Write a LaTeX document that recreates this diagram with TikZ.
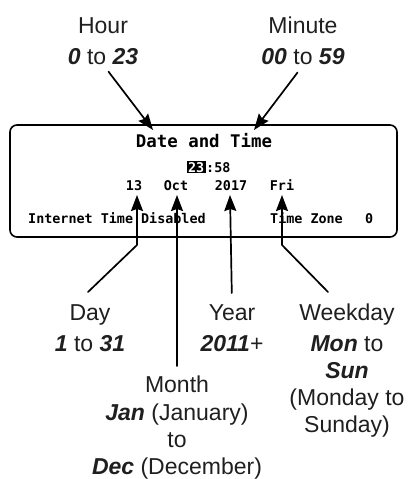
\documentclass[tikz,border=0pt]{standalone}
\usepackage{fontspec}
\setmainfont{Liberation Sans}
\newfontfamily\lcdfont{DejaVu Sans Mono}
\usetikzlibrary{arrows.meta}
\newcommand{\bi}[1]{\textbf{\textit{#1}}}
\tikzset{
  lbl/.style={align=center,inner sep=0pt,text=black!88,font=\fontsize{23}{27}\selectfont},
  lcd/.style={inner sep=0pt,anchor=base,font=\lcdfont\bfseries\fontsize{13.4}{14}\selectfont},
  lcdtitle/.style={lcd,font=\lcdfont\bfseries\fontsize{17.4}{18}\selectfont},
  screen/.style={draw,rounded corners=7pt,line width=1.6pt,minimum width=387pt,minimum height=112pt,inner sep=0pt},
  ptr/.style={->,line width=1.7pt},
}
\begin{document}
\begin{tikzpicture}[x=1pt,y=-1pt,>={Stealth[length=16pt,width=12pt,inset=2pt]},line join=round,line cap=round]
\useasboundingbox (0,0) rectangle (409,479);
\node[screen] (lcd) at (203.5,181) {};
\node[lcdtitle] (title) at (204,147) {Date and Time};
\node[lcd,anchor=base east,fill=black,text=white,inner xsep=1.5pt,inner ysep=1pt] (hh) at (206,172) {23};
\node[lcd,anchor=base west] (mm) at (206,172) {:58};
\node[lcd] (dd) at (134,190) {13};
\node[lcd] (mon) at (176,190) {Oct};
\node[lcd] (yy) at (231,190) {2017};
\node[lcd] (wd) at (282,190) {Fri};
\node[lcd,anchor=base west] (inet) at (28,223) {Internet Time Disabled};
\node[lcd,anchor=base west] (tz) at (270,223) {Time Zone};
\node[lcd,anchor=base west] (tzval) at (365,223) {0};

\node[lbl,anchor=north] (hour) at (103,17) {Hour\\[4pt]\bi{0} to \bi{23}};
\node[lbl,anchor=north] (minute) at (303,17) {Minute\\[4pt]\bi{00} to \bi{59}};
\node[lbl,anchor=north] (day) at (90,304) {Day\\[4pt]\bi{1} to \bi{31}};
\node[lbl,anchor=north] (year) at (232,304) {Year\\[4pt]\bi{2011}+};
\node[lbl,anchor=north] (weekday) at (347,304) {Weekday\\[4pt]\bi{Mon} to\\\bi{Sun}\\(Monday to\\Sunday)};
\node[lbl,anchor=north] (month) at (177,376) {Month\\[1pt]\bi{Jan} (January)\\to\\\bi{Dec} (December)};

\coordinate (hourtip) at (153,130);
\coordinate (minutetip) at (254,130);
\coordinate (daytip) at (137,195);
\coordinate (monthtip) at (177,195);
\coordinate (yeartip) at (230,195);
\coordinate (wdtip) at (282,195);
\coordinate (daybend) at (137,245);
\coordinate (wdbend) at (282,245);
\coordinate (dayfoot) at (88,292);
\coordinate (wdfoot) at (328,292);

\draw[ptr,shorten <=9pt] (hour.south) -- (hourtip);
\draw[ptr,shorten <=9pt] (minute.south) -- (minutetip);
\draw[ptr] (dayfoot) -- (daybend) -- (daytip);
\draw[ptr,shorten <=10pt] (month.north) -- (monthtip);
\draw[ptr,shorten <=11pt] (year.north) -- (yeartip);
\draw[ptr] (wdfoot) -- (wdbend) -- (wdtip);
\end{tikzpicture}
\end{document}
